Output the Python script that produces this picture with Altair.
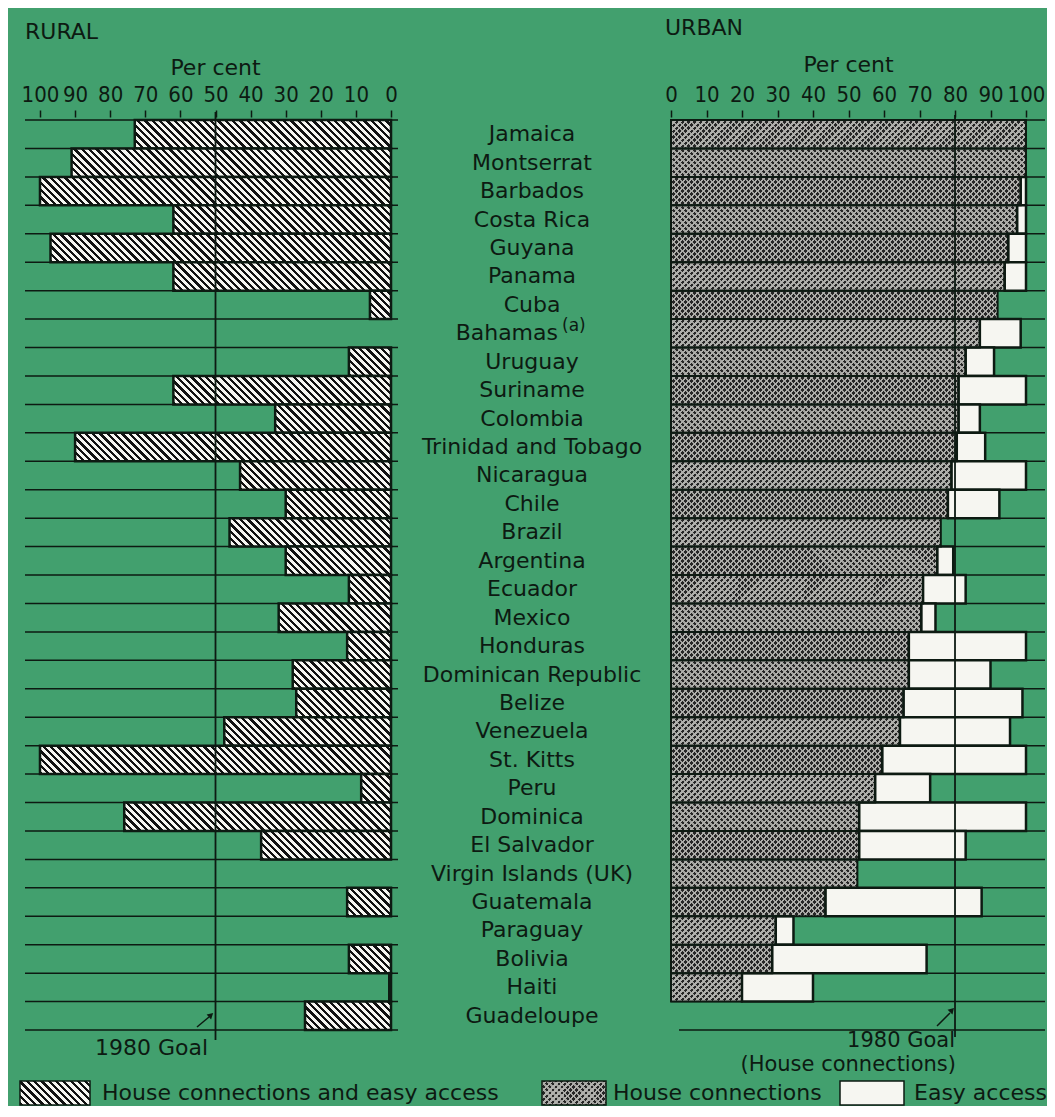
import altair as alt

# ---------------- data ----------------
countries = ["Jamaica", "Montserrat", "Barbados", "Costa Rica", "Guyana", "Panama", "Cuba",
             "Bahamas", "Uruguay", "Suriname", "Colombia", "Trinidad and Tobago", "Nicaragua",
             "Chile", "Brazil", "Argentina", "Ecuador", "Mexico", "Honduras",
             "Dominican Republic", "Belize", "Venezuela", "St. Kitts", "Peru", "Dominica",
             "El Salvador", "Virgin Islands (UK)", "Guatemala", "Paraguay", "Bolivia", "Haiti",
             "Guadeloupe"]

# Rural: house connections and easy access (per cent)
rural_pct = [73, 91, 100, 62, 97, 62, 6, None, 12, 62, 33, 90, 43, 30, 46, 30, 12, 32, 12.5,
             28, 27, 47.5, 100, 8.5, 76, 37, None, 12.5, None, 12, 0.5, 24.5]

# Urban: house connections (per cent)
urban_house_pct = [100, 100, 98.5, 97.5, 95, 94, 92, 87, 83, 81, 81, 80.5, 79, 78, 76, 75, 71,
                   70.5, 67, 67, 65.5, 64.5, 59.5, 57.5, 53, 53, 52.5, 43.5, 29.5, 28.5, 20, None]

# Urban: easy access (per cent, on top of house connections)
urban_easy_pct = [0, 0, 1.5, 2.5, 5, 6, 0, 11.5, 8, 19, 6, 8, 21, 14.5, 0, 4.5, 12, 4, 33, 23,
                  33.5, 31, 40.5, 15.5, 47, 30, 0, 44, 5, 43.5, 20, None]

goal_rural = 50
goal_urban = 80
x_ticks = list(range(0, 101, 10))

# ---------------- layout / style ----------------
W_R, W_M, W_U, H = 373, 273, 374, 910
R_DOM = [-1.99, 104.27]
U_DOM = [0, 105.35]
R_PX = W_R / (R_DOM[1] - R_DOM[0])
U_PX = W_U / (U_DOM[1] - U_DOM[0])
ROW_H = H / len(countries)

GREEN = "#42a06e"
INK = "#0d1a12"
PAPER = "#f6f6f1"
FONT = "DejaVu Sans"
TICKFONT = "DejaVu Sans Condensed, DejaVu Sans"


def stripe_gradient(w, h, period, dark_frac, dark, light, slant):
    """Linear gradient with hard stops that draws 45-degree stripes inside a w x h box."""
    w = max(w, 0.5)
    L = w + h
    s = L / (w * w + h * h)
    if slant == "back":
        x1, y1, x2, y2 = 0.0, 1.0, s * w, 1.0 - s * h
    else:
        x1, y1, x2, y2 = 0.0, 0.0, s * w, s * h
    stops = []
    k = 0
    while k * period < L:
        a = k * period / L
        b = min(1.0, (k + dark_frac) * period / L)
        c = min(1.0, (k + 1) * period / L)
        stops += [{"offset": round(a, 5), "color": dark}, {"offset": round(b, 5), "color": dark}]
        if b < 1.0:
            stops += [{"offset": round(b, 5), "color": light}, {"offset": round(c, 5), "color": light}]
        k += 1
    return {"gradient": "linear", "x1": round(x1, 5), "y1": round(y1, 5),
            "x2": round(x2, 5), "y2": round(y2, 5), "stops": stops}


def hatch(w, h):
    return stripe_gradient(w, h, 7.3, 0.45, "#111111", PAPER, "back")


def dots_a(w, h):
    return stripe_gradient(w, h, 6.0, 0.62, "#262626", "#a2a29e", "back")


def dots_b(w, h):
    return stripe_gradient(w, h, 6.0, 0.62, "rgba(180,180,176,0)", "#b0b0ac", "fwd")


rows = []
for i, c in enumerate(countries):
    r = rural_pct[i]
    hs = urban_house_pct[i]
    ez = urban_easy_pct[i]
    row = {"country": c, "rural": r, "house": hs, "easy": ez}
    if r is not None:
        row["hatch"] = hatch(r * R_PX, ROW_H)
    if hs is not None:
        row["dotsA"] = dots_a(hs * U_PX, ROW_H)
        row["dotsB"] = dots_b(hs * U_PX, ROW_H)
    rows.append(row)

data = alt.Data(values=rows)
one = alt.Data(values=[{"c": 50}])

y_scale = alt.Scale(domain=countries, paddingInner=0, paddingOuter=0)
y_enc = alt.Y("country:N", scale=y_scale, axis=None)
y_rows = alt.Y("country:N", scale=y_scale, axis=None, bandPosition=0)


def x_axis():
    return alt.Axis(orient="top", values=x_ticks, title=None, domain=False, grid=False,
                    ticks=True, tickSize=7, tickWidth=1.5, tickColor=INK,
                    labelFont=TICKFONT, labelFontSize=22, labelColor=INK, labelPadding=4,
                    offset=3, labelOverlap=False, labelFlush=False, format="d")


xr_scale = alt.Scale(domain=R_DOM, reverse=True, nice=False, zero=False)
xu_scale = alt.Scale(domain=U_DOM, nice=False, zero=False)


def txt(s, size=22, **kw):
    return alt.Chart(one).mark_text(text=s, font=FONT, fontSize=size, color=INK,
                                    baseline="middle", **kw)


def arrow_head(x, y, ang):
    return alt.Chart(one).mark_point(shape="triangle-up", filled=True, size=45, angle=ang,
                                     color=INK, opacity=1, strokeWidth=0).encode(
        x=alt.value(x), y=alt.value(y))


# ---------------- RURAL panel ----------------
r_rows = alt.Chart(data).mark_rule(color=INK, strokeWidth=1.5).encode(y=y_rows)
r_bottom = alt.Chart(one).mark_rule(color=INK, strokeWidth=1.5).encode(
    x=alt.value(0), x2=alt.value(W_R), y=alt.value(H))
r_bars = alt.Chart(data).transform_filter("datum.rural != null").mark_bar(
    stroke=INK, strokeWidth=2.5).encode(
    x=alt.X("rural:Q", scale=xr_scale, axis=x_axis()),
    x2=alt.X2Datum(0),
    y=y_enc,
    fill=alt.Fill("hatch:N", scale=None))
r_goal = alt.Chart(alt.Data(values=[{"g": goal_rural}])).mark_rule(
    color=INK, strokeWidth=1.8).encode(
    x=alt.X("g:Q", scale=xr_scale, axis=x_axis()), y=alt.value(-8), y2=alt.value(920))
r_percent = txt("Per cent", align="center").encode(
    x=alt.X("c:Q", scale=xr_scale, axis=x_axis()), y=alt.value(-52))
r_title = txt("RURAL", align="left").encode(x=alt.value(0), y=alt.value(-88))
r_goal_txt = txt("1980 Goal", align="right").encode(x=alt.value(183), y=alt.value(928))
r_arrow = alt.Chart(one).mark_rule(color=INK, strokeWidth=1.5).encode(
    x=alt.value(172), y=alt.value(907), x2=alt.value(184), y2=alt.value(897))
r_head = arrow_head(186, 895, 48)
leg1_box = alt.Chart(one).mark_rect(stroke=INK, strokeWidth=1.5).encode(
    x=alt.value(-5), x2=alt.value(65), y=alt.value(961), y2=alt.value(985),
    fill=alt.value(hatch(70, 24)))
leg1_txt = txt("House connections and easy access", align="left").encode(
    x=alt.value(77), y=alt.value(973))

rural = alt.layer(r_rows, r_bottom, r_bars, r_goal, r_percent, r_title, r_goal_txt,
                  r_arrow, r_head, leg1_box, leg1_txt).properties(width=W_R, height=H)

# ---------------- country labels ----------------
m_labels = alt.Chart(data).transform_filter("datum.country != 'Bahamas'").mark_text(
    font=FONT, fontSize=22, color=INK, baseline="middle", align="center").encode(
    y=y_enc, x=alt.value(134), text="country:N")
m_bah = alt.Chart(data).transform_filter("datum.country == 'Bahamas'").mark_text(
    font=FONT, fontSize=22, color=INK, baseline="middle", align="right").encode(
    y=y_enc, x=alt.value(160), text="country:N")
m_sup = alt.Chart(data).transform_filter("datum.country == 'Bahamas'").mark_text(
    text="(a)", font=FONT, fontSize=17, color=INK, baseline="middle", align="left",
    dy=-7).encode(y=y_enc, x=alt.value(164))
leg2_a = alt.Chart(one).mark_rect().encode(
    x=alt.value(144), x2=alt.value(208), y=alt.value(961), y2=alt.value(985),
    fill=alt.value(dots_a(64, 24)))
leg2_b = alt.Chart(one).mark_rect(stroke=INK, strokeWidth=1.5).encode(
    x=alt.value(144), x2=alt.value(208), y=alt.value(961), y2=alt.value(985),
    fill=alt.value(dots_b(64, 24)))
leg2_txt = txt("House connections", align="left").encode(x=alt.value(215), y=alt.value(973))

middle = alt.layer(m_labels, m_bah, m_sup, leg2_a, leg2_b, leg2_txt).properties(
    width=W_M, height=H)

# ---------------- URBAN panel ----------------
u_rows = alt.Chart(data).mark_rule(color=INK, strokeWidth=1.5).encode(y=y_rows)
u_bottom = alt.Chart(one).mark_rule(color=INK, strokeWidth=1.5).encode(
    x=alt.value(8), x2=alt.value(W_U), y=alt.value(H))
u_house_a = alt.Chart(data).transform_filter("datum.house != null").mark_bar().encode(
    x=alt.X("house:Q", scale=xu_scale, axis=x_axis()), x2=alt.X2Datum(0), y=y_enc,
    fill=alt.Fill("dotsA:N", scale=None))
u_house_b = alt.Chart(data).transform_filter("datum.house != null").mark_bar().encode(
    x=alt.X("house:Q", scale=xu_scale, axis=x_axis()), x2=alt.X2Datum(0), y=y_enc,
    fill=alt.Fill("dotsB:N", scale=None))
u_house_line = alt.Chart(data).transform_filter("datum.house != null").mark_bar(
    fill="white", fillOpacity=0, stroke=INK, strokeWidth=2).encode(
    x=alt.X("house:Q", scale=xu_scale, axis=x_axis()), x2=alt.X2Datum(0), y=y_enc)
u_easy = alt.Chart(data).transform_filter("datum.easy > 0").transform_calculate(
    total="datum.house + datum.easy").mark_bar(fill=PAPER, stroke=INK, strokeWidth=2.5).encode(
    x=alt.X("house:Q", scale=xu_scale, axis=x_axis()), x2=alt.X2("total:Q"), y=y_enc)
u_goal = alt.Chart(alt.Data(values=[{"g": goal_urban}])).mark_rule(
    color=INK, strokeWidth=1.8).encode(
    x=alt.X("g:Q", scale=xu_scale, axis=x_axis()), y=alt.value(-5), y2=alt.value(917))
u_percent = txt("Per cent", align="center").encode(
    x=alt.X("c:Q", scale=xu_scale, axis=x_axis()), y=alt.value(-55))
u_title = txt("URBAN", align="left").encode(x=alt.value(-6), y=alt.value(-92))
u_goal_txt = txt("1980 Goal", size=21, align="right").encode(x=alt.value(284), y=alt.value(921))
u_goal_txt2 = txt("(House connections)", size=21, align="right").encode(
    x=alt.value(285), y=alt.value(945))
u_arrow = alt.Chart(one).mark_rule(color=INK, strokeWidth=1.5).encode(
    x=alt.value(266), y=alt.value(906), x2=alt.value(279), y2=alt.value(893))
u_head = arrow_head(281, 890, 43)
leg3_box = alt.Chart(one).mark_rect(fill=PAPER, stroke=INK, strokeWidth=1.5).encode(
    x=alt.value(169), x2=alt.value(233), y=alt.value(961), y2=alt.value(985))
leg3_txt = txt("Easy access", align="left").encode(x=alt.value(243), y=alt.value(973))

urban = alt.layer(u_rows, u_bottom, u_house_a, u_house_b, u_easy, u_house_line, u_goal,
                  u_percent, u_title, u_goal_txt, u_goal_txt2, u_arrow, u_head,
                  leg3_box, leg3_txt).properties(width=W_U, height=H)

chart = alt.hconcat(rural, middle, urban, spacing=0, bounds="flush").properties(
    background=GREEN, padding={"left": 11, "top": 9, "right": 0, "bottom": 0}
).configure_view(strokeWidth=0)

chart.save("out.html", embed_options={"renderer": "svg", "actions": False})
